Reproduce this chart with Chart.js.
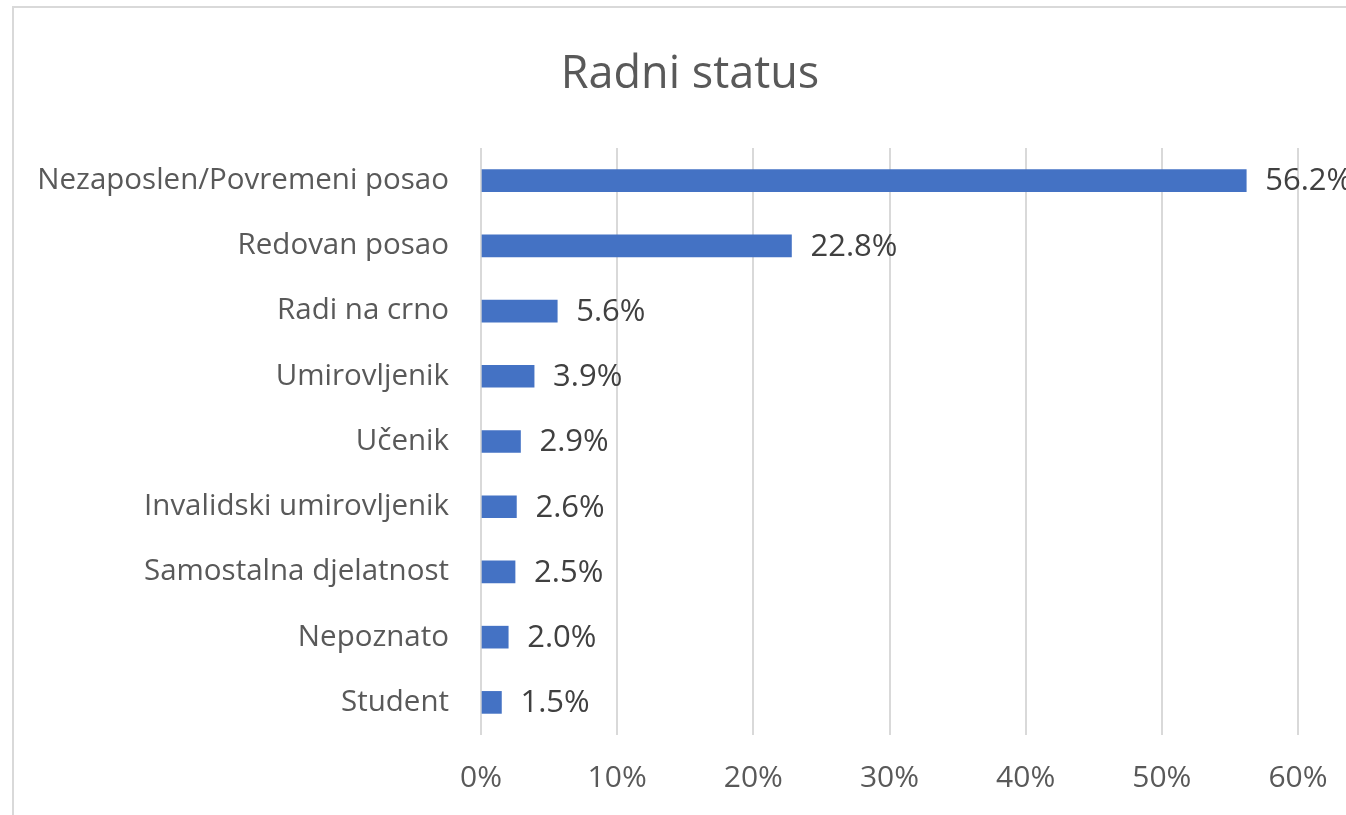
<!DOCTYPE html>
<html>
<head>
<meta charset="utf-8">
<title>Radni status</title>
<script src="https://cdn.jsdelivr.net/npm/chart.js@4.4.0/dist/chart.umd.min.js"></script>
<style>
  html, body { margin: 0; padding: 0; background: #fff; overflow: hidden; }
  #wrap { position: absolute; left: 0; top: 0; width: 1380px; height: 815px; }
  #frame {
    position: absolute; left: 12px; top: 6px; width: 1400px; height: 900px;
    border-left: 2px solid #d9d9d9; border-top: 2px solid #d9d9d9;
    pointer-events: none;
  }
</style>
</head>
<body>
<div id="wrap"><canvas id="chart"></canvas></div>
<div id="frame"></div>
<script>
// Chart data
const categories = [
  'Nezaposlen/Povremeni posao',
  'Redovan posao',
  'Radi na crno',
  'Umirovljenik',
  'Učenik',
  'Invalidski umirovljenik',
  'Samostalna djelatnost',
  'Nepoznato',
  'Student'
];
const shares = [56.2, 22.8, 5.6, 3.9, 2.9, 2.6, 2.5, 2.0, 1.5];
const axisTicks = [0, 10, 20, 30, 40, 50, 60];

const FONT = "'Open Sans', 'Noto Sans', sans-serif";

// draws "56.2%" style labels right after each bar
const valueLabels = {
  id: 'valueLabels',
  afterDatasetsDraw(chart) {
    const ctx = chart.ctx;
    const meta = chart.getDatasetMeta(0);
    ctx.save();
    ctx.font = '31px ' + FONT;
    ctx.fillStyle = '#404040';
    ctx.textAlign = 'left';
    ctx.textBaseline = 'middle';
    meta.data.forEach((bar, i) => {
      ctx.fillText(shares[i].toFixed(1) + '%', bar.x + 19, bar.y + 1);
    });
    ctx.restore();
  }
};

new Chart(document.getElementById('chart'), {
  type: 'bar',
  data: {
    labels: categories,
    datasets: [{
      data: shares,
      backgroundColor: '#4472c4',
      barThickness: 22
    }]
  },
  options: {
    indexAxis: 'y',
    responsive: true,
    maintainAspectRatio: false,
    animation: false,
    layout: { padding: { left: 0, right: 0, top: 0, bottom: 18 } },
    plugins: {
      legend: { display: false },
      tooltip: { enabled: false },
      title: {
        display: true,
        text: 'Radni status',
        color: '#595959',
        font: { family: FONT, size: 45, weight: 'normal' },
        padding: { top: 48, bottom: 46 }
      }
    },
    scales: {
      x: {
        min: 0,
        max: 60,
        afterBuildTicks(scale) {
          scale.ticks = axisTicks.map(v => ({ value: v }));
        },
        afterFit(scale) { scale.height = 62; },
        border: { display: false },
        grid: { color: '#d9d9d9', lineWidth: 2, drawTicks: false },
        ticks: {
          padding: 25,
          color: '#595959',
          font: { family: FONT, size: 30 },
          callback: v => v + '%'
        }
      },
      y: {
        afterFit(scale) { scale.width = 481; },
        border: { display: false },
        grid: { display: false },
        ticks: {
          padding: 24,
          color: '#595959',
          font: { family: FONT, size: 29.5 }
        }
      },
      // empty right-hand strip so the plot ends where the reference's does
      yRight: {
        type: 'category',
        position: 'right',
        afterFit(scale) { scale.width = 82; },
        border: { display: false },
        grid: { display: false },
        ticks: { display: false }
      }
    }
  },
  plugins: [valueLabels]
});
</script>
</body>
</html>
